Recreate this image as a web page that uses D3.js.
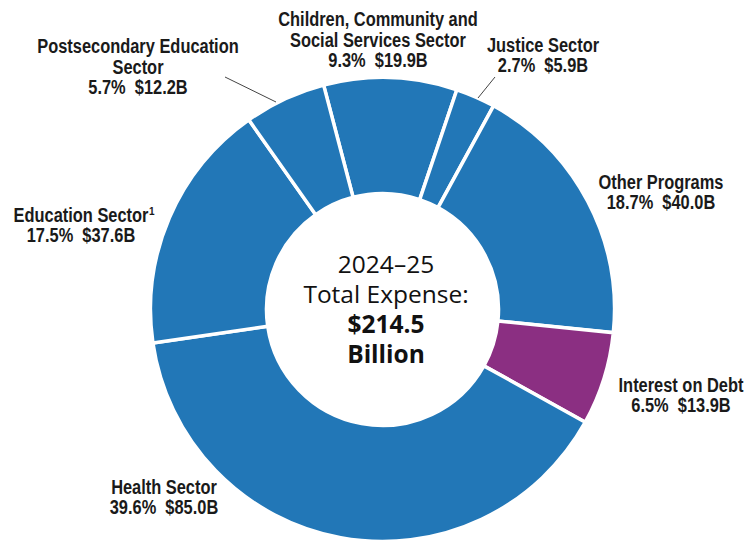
<!DOCTYPE html>
<html>
<head>
<meta charset="utf-8">
<script src="https://cdn.jsdelivr.net/npm/d3@7"></script>
<style>
  body { margin: 0; background: #fff; }
  .lbl { font-family: "Liberation Sans", Arial, sans-serif; font-weight: bold; font-size: 20px; fill: #1a1a1a; white-space: pre; }
  .mid { font-family: "Open Sans", Lato, sans-serif; font-size: 24.5px; fill: #111; }
</style>
</head>
<body>
<svg id="chart" width="748" height="542"></svg>
<script>
// sectors, clockwise from the top of the ring
const sectors = ["Children, Community and Social Services Sector", "Justice Sector", "Other Programs",
  "Interest on Debt", "Health Sector", "Education Sector", "Postsecondary Education Sector"];
const amounts = [19.9, 5.9, 40.0, 13.9, 85.0, 37.6, 12.2];
const shares = ["9.3%", "2.7%", "18.7%", "6.5%", "39.6%", "17.5%", "5.7%"];
const centreLines = ["2024\u201325", "Total Expense:", "$214.5", "Billion"];

const blue = "#2277b7", purple = "#8b2f82";

const svg = d3.select("#chart");
const center = { x: 382.5, y: 309.5 };
const radius = { outer: 232, inner: 116 };

const data = sectors.map((s, i) => ({ name: s, value: amounts[i], share: shares[i] }));

const start = -14.7 * Math.PI / 180;
const pie = d3.pie()
  .sort(null)
  .value(d => d.value)
  .startAngle(start)
  .endAngle(start + 2 * Math.PI);

const arcPath = d3.arc()
  .outerRadius(radius.outer)
  .innerRadius(radius.inner);

const graph = svg.append("g")
  .attr("transform", `translate(${center.x}, ${center.y})`);

graph.selectAll("path")
  .data(pie(data))
  .enter()
  .append("path")
  .attr("d", arcPath)
  .attr("fill", d => d.data.name === "Interest on Debt" ? purple : blue)
  .attr("stroke", "#fff")
  .attr("stroke-width", 3.5);

// label placement (hand placed like the original layout)
const labelLayout = {
  "Children, Community and Social Services Sector": { x: 378, y: 26, lines: ["Children, Community and", "Social Services Sector"] },
  "Justice Sector": { x: 543, y: 52, lines: ["Justice Sector"] },
  "Other Programs": { x: 661, y: 189, lines: ["Other Programs"] },
  "Interest on Debt": { x: 681, y: 392, lines: ["Interest on Debt"] },
  "Health Sector": { x: 164, y: 494, lines: ["Health Sector"] },
  "Education Sector": { x: 81, y: 222, lines: ["Education Sector"], sup: "1" },
  "Postsecondary Education Sector": { x: 138, y: 53, lines: ["Postsecondary Education", "Sector"] }
};
const lineH = 20.5;
const narrow = 0.82; // squeeze Liberation Sans to an Arial Narrow width

function narrowLine(x, y, str) {
  const t = svg.append("text")
    .attr("class", "lbl")
    .attr("text-anchor", "middle")
    .attr("x", x)
    .attr("y", y)
    .text(str);
  const w = t.node().getComputedTextLength();
  t.attr("textLength", w * narrow).attr("lengthAdjust", "spacingAndGlyphs");
  return w * narrow;
}

data.forEach(d => {
  const l = labelLayout[d.name];
  l.lines.forEach((line, i) => {
    const w = narrowLine(l.x, l.y + i * lineH, line);
    if (l.sup && i === 0) {
      svg.append("text")
        .attr("class", "lbl")
        .style("font-size", "10px")
        .attr("x", l.x + w / 2 + 0.5)
        .attr("y", l.y + i * lineH - 7)
        .text(l.sup);
    }
  });
  narrowLine(l.x, l.y + l.lines.length * lineH - 0.5, `${d.share}  $${d.value.toFixed(1)}B`);
});

// leader lines
const leaders = [
  { from: [225, 77], to: [276, 102] },
  { from: [495, 77], to: [478, 98] }
];
svg.selectAll("line.leader")
  .data(leaders)
  .enter()
  .append("line")
  .attr("class", "leader")
  .attr("x1", d => d.from[0]).attr("y1", d => d.from[1])
  .attr("x2", d => d.to[0]).attr("y2", d => d.to[1])
  .attr("stroke", "#444")
  .attr("stroke-width", 1);

// centre text
centreLines.forEach((line, i) => {
  svg.append("text")
    .attr("class", "mid")
    .attr("text-anchor", "middle")
    .attr("x", 386)
    .attr("y", 273 + i * 30)
    .attr("font-weight", i >= 2 ? "bold" : "normal")
    .text(line);
});
</script>
</body>
</html>
